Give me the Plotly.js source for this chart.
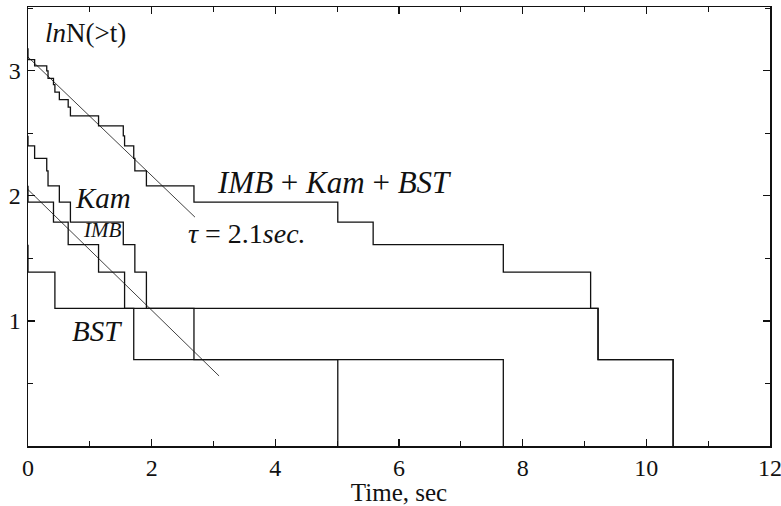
<!DOCTYPE html>
<html>
<head>
<meta charset="utf-8">
<script src="https://cdn.plot.ly/plotly-3.0.1.min.js"></script>
<style>html,body{margin:0;padding:0;background:#fff;}#chart{width:781px;height:506px;}</style>
</head>
<body>
<div id="chart"></div>
<script>
// ln N(>t) step curves (time in sec, level in ln N)
const totT = [0, 0, 0.107, 0.303, 0.324, 0.412, 0.435, 0.507, 0.650, 0.686, 1.141, 1.541, 1.562, 1.710, 1.728, 1.915, 2.684, 5.010, 5.582, 7.687, 9.099, 9.219, 10.433];
const totY = [3.18, 3.09, 3.04, 3.00, 2.94, 2.89, 2.83, 2.77, 2.71, 2.64, 2.56, 2.48, 2.40, 2.30, 2.20, 2.08, 1.95, 1.79, 1.61, 1.39, 1.10, 0.69, 0];

const kamT = [0, 0, 0.107, 0.303, 0.324, 0.507, 0.686, 1.541, 1.728, 1.915, 9.219, 10.433];
const kamY = [2.48, 2.40, 2.30, 2.20, 2.08, 1.95, 1.79, 1.61, 1.39, 1.10, 0.69, 0];

const imbT = [0, 0, 0.412, 0.650, 1.141, 1.562, 2.684, 5.010];
const imbY = [2.08, 1.95, 1.79, 1.61, 1.39, 1.10, 0.69, 0];

const bstT = [0, 0, 0.435, 1.710, 7.687];
const bstY = [1.61, 1.39, 1.10, 0.69, 0];

// exponential fits, tau = 2.1 sec
const fit1T = [0, 2.70];
const fit1Y = [3.11, 1.83];
const fit2T = [0, 3.09];
const fit2Y = [2.05, 0.56];

const xTicks = [0, 2, 4, 6, 8, 10, 12];
const yTicks = [1, 2, 3];

const stepLine = {color: '#111', width: 1.3, shape: 'hv'};
const fitLine = {color: '#111', width: 0.8};

const traces = [
  {x: totT, y: totY, mode: 'lines', line: stepLine, name: 'IMB + Kam + BST'},
  {x: kamT, y: kamY, mode: 'lines', line: stepLine, name: 'Kam'},
  {x: imbT, y: imbY, mode: 'lines', line: stepLine, name: 'IMB'},
  {x: bstT, y: bstY, mode: 'lines', line: stepLine, name: 'BST'},
  {x: fit1T, y: fit1Y, mode: 'lines', line: fitLine, name: 'fit'},
  {x: fit2T, y: fit2Y, mode: 'lines', line: fitLine, name: 'fit2'}
];

const serif = '"Liberation Serif", "DejaVu Serif", serif';
const ann = (x, y, text, size) => ({x: x, y: y, xref: 'x', yref: 'y', text: text, showarrow: false,
  font: {family: serif, size: size, color: '#111'}, xanchor: 'center', yanchor: 'middle'});

const layout = {
  width: 781, height: 506,
  margin: {l: 28, r: 11, t: 7, b: 60},
  paper_bgcolor: '#fff', plot_bgcolor: '#fff',
  showlegend: false,
  font: {family: serif, color: '#111'},
  xaxis: {
    range: [0, 12], tickvals: xTicks, ticktext: xTicks.map(String),
    ticks: 'inside', ticklen: 7, tickwidth: 1.2, tickcolor: '#111',
    minor: {dtick: 1, ticks: 'inside', ticklen: 5, tickcolor: '#111'},
    showline: true, linecolor: '#111', linewidth: 1.5, mirror: 'allticks',
    showgrid: false, zeroline: false,
    tickfont: {family: serif, size: 24, color: '#111'},
    ticklabelstandoff: 0,
    ticklabeloverflow: 'allow',
    title: {text: 'Time, sec', font: {family: serif, size: 25, color: '#111'}, standoff: 2}
  },
  yaxis: {
    range: [0, 3.51], tickvals: yTicks, ticktext: yTicks.map(String),
    ticks: 'inside', ticklen: 7, tickwidth: 1.2, tickcolor: '#111',
    minor: {dtick: 0.5, ticks: 'inside', ticklen: 5, tickcolor: '#111'},
    showline: true, linecolor: '#111', linewidth: 1.5, mirror: 'allticks',
    showgrid: false, zeroline: false,
    tickfont: {family: serif, size: 24, color: '#111'},
    ticklabelstandoff: 1
  },
  annotations: [
    ann(0.93, 3.30, '<i>ln</i>N(&gt;t)', 27),
    ann(4.95, 2.11, '<i>IMB</i> + <i>Kam</i> + <i>BST</i>', 31),
    ann(3.54, 1.70, '<i>τ</i> = 2.1<i>sec.</i>', 28),
    ann(1.21, 1.98, '<i>Kam</i>', 29),
    ann(1.19, 1.73, '<i>IMB</i>', 21),
    ann(1.12, 0.92, '<i>BST</i>', 29)
  ]
};

Plotly.newPlot('chart', traces, layout, {displayModeBar: false, staticPlot: true});
</script>
</body>
</html>
